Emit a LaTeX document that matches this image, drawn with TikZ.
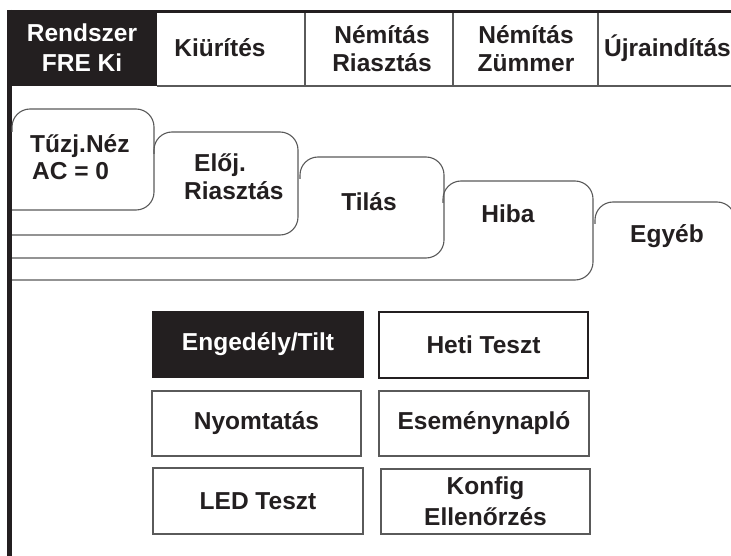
\documentclass[tikz,border=0pt]{standalone}
\usepackage{fontspec}
\setmainfont{Liberation Sans}
\definecolor{ink}{RGB}{35,31,32}
\definecolor{rule}{RGB}{90,90,90}
\begin{document}
\begin{tikzpicture}[x=1pt,y=-1pt,
  txt/.style={inner sep=0pt, font=\bfseries\fontsize{24.5}{28}\selectfont, text=ink},
  wtxt/.style={txt, text=white},
  thin/.style={draw=rule, line width=1.1pt},
  tabline/.style={draw=rule, line width=1.1pt, rounded corners=18pt},
  btn/.style={draw=rule, line width=1.1pt, fill=white, inner sep=0pt,
    minimum width=209pt, minimum height=65pt, align=center,
    font=\bfseries\fontsize{24.5}{31}\selectfont, text=ink},
]
\useasboundingbox (0,0) rectangle (731,556);
\fill[white] (0,0) rectangle (731,556);

% top bar
\fill[ink] (7,10) rectangle (157,86);
\draw[thin] (157,86) -- (735,86);
\draw[thin] (305,12) -- (305,86);
\draw[thin] (453,12) -- (453,86);
\draw[thin] (598,12) -- (598,86);
\draw[ink, line width=3.5pt] (7,11.5) -- (735,11.5);
\draw[ink, line width=4.8pt] (9.6,10) -- (9.6,560);

\node[wtxt, align=center, font=\bfseries\fontsize{24.5}{30}\selectfont] (rend) at (82,48) {Rendszer\\FRE Ki};
\node[txt] (kiur) at (220,48) {Kiürítés};
\node[txt, align=center] (nemr) at (382,49) {Némítás\\Riasztás};
\node[txt, align=center] (nemz) at (526,49) {Némítás\\Zümmer};
\node[txt, anchor=west] (ujra) at (604,48) {Újraindítás};

% folder tabs
\draw[tabline] (12,132) -- (12,109) -- (154,109) -- (154,210) -- (12,210);
\draw[tabline] (154,154) -- (154,132) -- (298,132) -- (298,235) -- (12,235);
\draw[tabline] (300,179) -- (300,157) -- (444,157) -- (444,258) -- (12,258);
\draw[tabline] (443,203) -- (443,181) -- (593,181) -- (593,280) -- (12,280);
\draw[tabline] (595,224) -- (595,202) -- (735,202) -- (735,240);

\node[txt, anchor=base west] (t1a) at (30,153) {Tűzj.Néz};
\node[txt, anchor=base west] (t1b) at (32,180) {AC = 0};
\node[txt, anchor=base west] (t2a) at (194,172) {Előj.};
\node[txt, anchor=base west] (t2b) at (184,200) {Riasztás};
\node[txt, anchor=base] (t3) at (369,211) {Tilás};
\node[txt, anchor=base] (t4) at (508,223) {Hiba};
\node[txt, anchor=base] (t5) at (667,243) {Egyéb};

% buttons
\node[btn, fill=ink, draw=ink, text=white, minimum width=210pt] (eng) at (258,344.5) {Engedély/Tilt};
\node[btn, draw=ink, line width=1.6pt, minimum height=66pt] (heti) at (483.5,345) {Heti Teszt};
\node[btn] (nyom) at (256.5,423.5) {Nyomtatás};
\node[btn, minimum width=210pt] (esem) at (484,423.5) {Eseménynapló};
\node[btn, minimum width=210pt, minimum height=66pt] (led) at (258,501) {LED Teszt};
\node[btn] (konf) at (485.5,501.5) {Konfig\\Ellenőrzés};
\end{tikzpicture}
\end{document}
